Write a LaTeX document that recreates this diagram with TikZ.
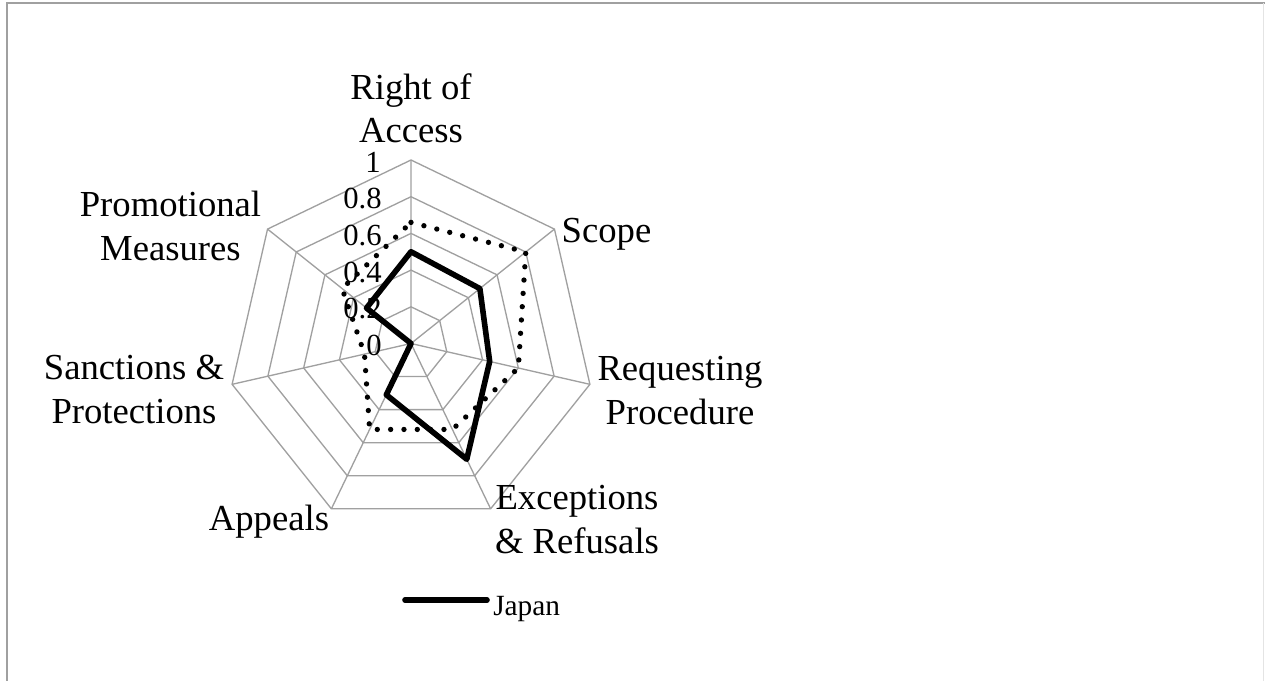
\documentclass[tikz,border=0pt]{standalone}
\usepackage{fontspec}
\setmainfont{Liberation Serif}
\definecolor{gridgray}{RGB}{160,160,160}
\definecolor{framegray}{RGB}{160,160,160}
\definecolor{edgegray}{RGB}{228,228,228}
\begin{document}
\begin{tikzpicture}[x=0.75pt,y=0.75pt,yscale=-1,xscale=1,
  gridline/.style={draw=gridgray, line width=1pt},
  axislabel/.style={align=center, inner sep=0pt, font=\fontsize{27.5}{32.5}\selectfont},
  ticklabel/.style={anchor=base east, inner sep=0pt, font=\fontsize{23}{27}\selectfont},
  japanline/.style={line width=4.2pt, line cap=round, line join=round},
  otherline/.style={line width=4pt, line cap=round, dash pattern=on 0pt off 10pt}]
\useasboundingbox (0,0) rectangle (1265,681);

%Frame
\draw [framegray, line width=1.5pt] (7,681) -- (7,3.5) -- (1265,3.5) ;
\draw [edgegray, line width=0.75pt] (1263.5,3.5) -- (1263.5,681) ;

\begin{scope}[shift={(411,343.5)}]
%Axes
\coordinate (o) at (0,0);
\coordinate (ax1) at (-90:183.5);
\coordinate (ax2) at (-38.571:183.5);
\coordinate (ax3) at (12.857:183.5);
\coordinate (ax4) at (64.286:183.5);
\coordinate (ax5) at (115.714:183.5);
\coordinate (ax6) at (167.143:183.5);
\coordinate (ax7) at (218.571:183.5);
\draw [gridline] (o) -- (ax1) (o) -- (ax2) (o) -- (ax3) (o) -- (ax4) (o) -- (ax5) (o) -- (ax6) (o) -- (ax7) ;

%Rings
\draw [gridline] (-90:36.7) -- (-38.571:36.7) -- (12.857:36.7) -- (64.286:36.7) -- (115.714:36.7) -- (167.143:36.7) -- (218.571:36.7) -- cycle ;
\draw [gridline] (-90:73.4) -- (-38.571:73.4) -- (12.857:73.4) -- (64.286:73.4) -- (115.714:73.4) -- (167.143:73.4) -- (218.571:73.4) -- cycle ;
\draw [gridline] (-90:110.1) -- (-38.571:110.1) -- (12.857:110.1) -- (64.286:110.1) -- (115.714:110.1) -- (167.143:110.1) -- (218.571:110.1) -- cycle ;
\draw [gridline] (-90:146.8) -- (-38.571:146.8) -- (12.857:146.8) -- (64.286:146.8) -- (115.714:146.8) -- (167.143:146.8) -- (218.571:146.8) -- cycle ;
\draw [gridline] (ax1) -- (ax2) -- (ax3) -- (ax4) -- (ax5) -- (ax6) -- (ax7) -- cycle ;
\end{scope}

% Tick labels
\node [ticklabel] (t0) at (382,355.5) {0};
\node [ticklabel] (t2) at (382,318.8) {0.2};
\node [ticklabel] (t4) at (382,282.1) {0.4};
\node [ticklabel] (t6) at (382,245.4) {0.6};
\node [ticklabel] (t8) at (382,208.7) {0.8};
\node [ticklabel] (t10) at (381,173) {1};

\begin{scope}[shift={(411,343.5)}]
%Second series
\draw [otherline] (-90:121.1) -- (-38.571:146.8) -- (12.857:110.1) -- (64.286:95.4) -- (115.714:95.4) -- (167.143:47.7) -- (218.571:88.1) -- cycle ;
%Japan
\draw [japanline] (-90:91.75) -- (-38.571:88.1) -- (12.857:80.7) -- (64.286:128.5) -- (115.714:56.9) -- (o) -- (218.571:56.9) -- cycle ;
\end{scope}

% Text Node
\node [axislabel] (access) at (411,108) {Right of\\Access};
% Text Node
\node [axislabel] (scope) at (606.5,234) {Scope};
% Text Node
\node [axislabel] (request) at (680,390.5) {Requesting\\Procedure};
% Text Node
\node [axislabel] (except) at (577,519.5) {Exceptions\\\& Refusals};
% Text Node
\node [axislabel] (appeals) at (269,522) {Appeals};
% Text Node
\node [axislabel] (sanction) at (134,389.5) {Sanctions \&\\Protections};
% Text Node
\node [axislabel] (promo) at (170.5,226) {Promotional\\Measures};

%Legend
\coordinate (legA) at (405,600);
\coordinate (legB) at (487,600);
\draw [japanline] (legA) -- (legB) ;
\node [anchor=base west, inner sep=0pt, font=\fontsize{22}{26}\selectfont] (japan) at (493,615) {Japan};

\end{tikzpicture}
\end{document}
